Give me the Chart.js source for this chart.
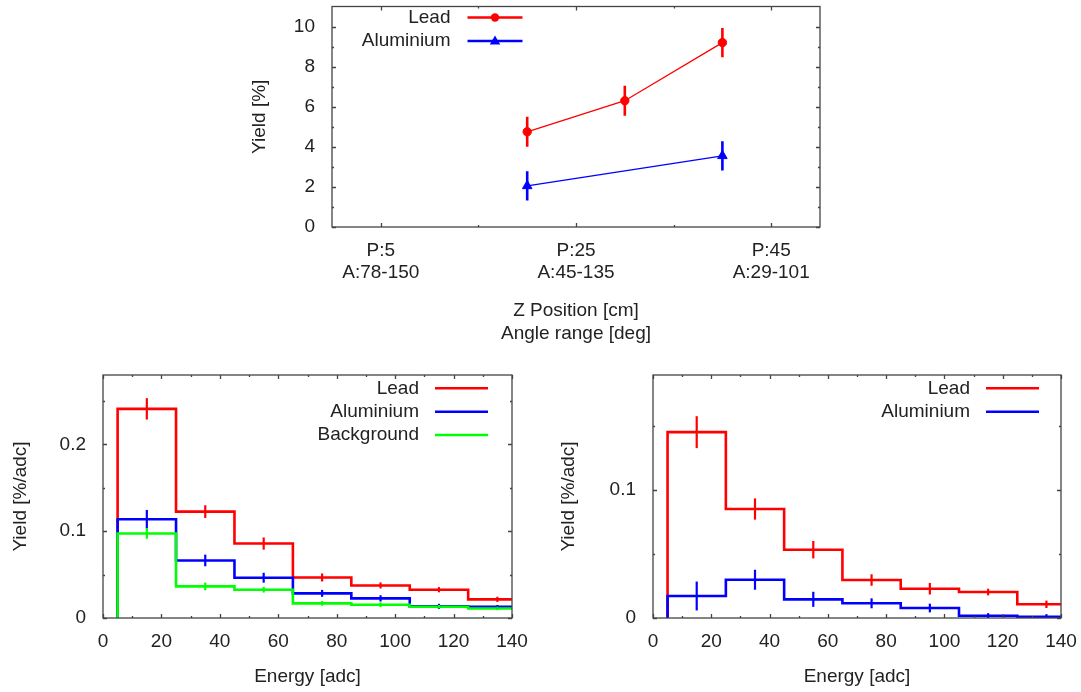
<!DOCTYPE html>
<html>
<head>
<meta charset="utf-8">
<script src="https://cdn.jsdelivr.net/npm/chart.js@4.4.1/dist/chart.umd.min.js"></script>
<style>
	body { margin: 0; background: #fff; }
	#page { position: relative; width: 1081px; height: 692px; overflow: hidden; }
	canvas { position: absolute; }
</style>
</head>
<body>
<div id="page">
	<canvas id="yield-z" width="600" height="350" style="left:230px;top:0"></canvas>
	<canvas id="energy-left" width="530" height="332" style="left:0;top:360px"></canvas>
	<canvas id="energy-right" width="533" height="332" style="left:548px;top:360px"></canvas>
</div>
<script>
	// top panel: yield vs z position
	var zLead = [20, 30, 40];
	var yieldLead = [4.75, 6.3, 9.2];
	var yieldLeadErr = [0.75, 0.75, 0.73];
	var zAlu = [20, 40];
	var yieldAlu = [2.05, 3.55];
	var yieldAluErr = [0.73, 0.73];
	var zTicks = [5, 25, 45];
	var zTickLabels = [['P:5', 'A:78-150'], ['P:25', 'A:45-135'], ['P:45', 'A:29-101']];
	var zMinorTicks = [15, 35];
	var yieldTicks = [0, 2, 4, 6, 8, 10];
	var yieldMinorTicks = [1, 3, 5, 7, 9];

	// energy histograms, bins 5-25, 25-45 ...
	var binEdges = [5, 25, 45, 65, 85, 105, 125, 145];
	var binCenters = [15, 35, 55, 75, 95, 115, 135];
	var energyTicks = [0, 20, 40, 60, 80, 100, 120, 140];
	var energyMinorTicks = [10, 30, 50, 70, 90, 110, 130];

	var leftLead = [0.241, 0.1226, 0.0858, 0.0467, 0.0375, 0.0326, 0.0215];
	var leftLeadErr = [0.0123, 0.0073, 0.007, 0.0046, 0.0035, 0.003, 0.003];
	var leftAlu = [0.1138, 0.0663, 0.0464, 0.0284, 0.0226, 0.0134, 0.013];
	var leftAluErr = [0.0107, 0.0067, 0.0057, 0.004, 0.0036, 0.003, 0.002];
	var leftBkg = [0.0973, 0.0364, 0.0326, 0.0169, 0.0153, 0.013, 0.011];
	var leftBkgErr = [0.006, 0.0044, 0.0033, 0.0027, 0.0027, 0.002, 0.002];
	var leftYTicks = [0, 0.1, 0.2];
	var leftYLabels = ['0', '0.1', '0.2'];
	var leftYMinor = [0.05, 0.15, 0.25];

	var rightLead = [0.1453, 0.0852, 0.0534, 0.0297, 0.0229, 0.0203, 0.0107];
	var rightLeadErr = [0.0125, 0.0083, 0.0068, 0.0045, 0.0045, 0.0026, 0.0029];
	var rightAlu = [0.0172, 0.0299, 0.0146, 0.0115, 0.0078, 0.0018, 0.001];
	var rightAluErr = [0.0113, 0.0078, 0.0059, 0.0039, 0.0034, 0.002, 0.002];
	var rightYTicks = [0, 0.1];
	var rightYLabels = ['0', '0.1'];
	var rightYMinor = [0.05, 0.15];

	var RED = '#ff0000', BLUE = '#0000ff', GREEN = '#00ff00';
	var TEXT = '#222222', FRAME = '#444444';
	var FONT = "'Liberation Sans', Arial, sans-serif";

	Chart.defaults.font.family = FONT;
	Chart.defaults.font.size = 19;
	Chart.defaults.color = TEXT;

	// gnuplot look: frame, inward ticks on all sides, error bars, key
	var gnuplotLook = {
		id: 'gp',
		afterDatasetsDraw: function(chart, args, opts) {
			var ctx = chart.ctx, xs = chart.scales.x, ys = chart.scales.y, a = chart.chartArea;
			ctx.save();
			ctx.beginPath();
			ctx.rect(a.left, a.top, a.right - a.left, a.bottom - a.top);
			ctx.clip();
			chart.data.datasets.forEach(function(ds) {
				if (!ds.errX) return;
				ctx.strokeStyle = ds.borderColor;
				ctx.lineWidth = opts.errWidth;
				ds.errX.forEach(function(x, i) {
					var px = xs.getPixelForValue(x);
					ctx.beginPath();
					ctx.moveTo(px, ys.getPixelForValue(ds.errY[i] - ds.errE[i]));
					ctx.lineTo(px, ys.getPixelForValue(ds.errY[i] + ds.errE[i]));
					ctx.stroke();
				});
			});
			ctx.restore();
		},
		afterDraw: function(chart, args, opts) {
			var ctx = chart.ctx, xs = chart.scales.x, ys = chart.scales.y, a = chart.chartArea;
			ctx.save();
			ctx.strokeStyle = FRAME;
			ctx.lineWidth = 1.3;
			ctx.strokeRect(a.left, a.top, a.right - a.left, a.bottom - a.top);

			function xTicks(vals, len) {
				vals.forEach(function(v) {
					var px = Math.round(xs.getPixelForValue(v)) + 0.5;
					ctx.beginPath();
					ctx.moveTo(px, a.bottom); ctx.lineTo(px, a.bottom - len);
					ctx.moveTo(px, a.top); ctx.lineTo(px, a.top + len);
					ctx.stroke();
				});
			}
			function yTicks(vals, len) {
				vals.forEach(function(v) {
					var py = Math.round(ys.getPixelForValue(v)) + 0.5;
					ctx.beginPath();
					ctx.moveTo(a.left, py); ctx.lineTo(a.left + len, py);
					ctx.moveTo(a.right, py); ctx.lineTo(a.right - len, py);
					ctx.stroke();
				});
			}
			xTicks(opts.xMajor, 4);
			xTicks(opts.xMinor, 2);
			yTicks(opts.yMajor, 4);
			yTicks(opts.yMinor, 2);

			// key
			var k = opts.key;
			ctx.font = '19px ' + FONT;
			ctx.textAlign = 'right';
			ctx.textBaseline = 'middle';
			chart.data.datasets.forEach(function(ds, i) {
				var y = k.y + i * k.dy;
				ctx.fillStyle = TEXT;
				ctx.fillText(ds.label, k.textRight, y);
				ctx.strokeStyle = ds.borderColor;
				ctx.lineWidth = 2.5;
				ctx.beginPath();
				ctx.moveTo(k.x0, y); ctx.lineTo(k.x1, y);
				ctx.stroke();
				if (ds.pointRadius) {
					var cx = (k.x0 + k.x1) / 2, r = ds.pointRadius;
					ctx.fillStyle = ds.borderColor;
					ctx.beginPath();
					if (ds.pointStyle === 'triangle') {
						ctx.moveTo(cx, y - r);
						ctx.lineTo(cx + r * 0.95, y + r * 0.65);
						ctx.lineTo(cx - r * 0.95, y + r * 0.65);
						ctx.closePath();
					} else {
						ctx.arc(cx, y, r, 0, Math.PI * 2);
					}
					ctx.fill();
				}
			});
			ctx.restore();
		}
	};

	function fixedTicks(vals) {
		return function(scale) {
			scale.ticks = vals.map(function(v) { return { value: v }; });
		};
	}

	// fixed box sizes, no label overhang padding, so the plot frame lands where gnuplot put it
	function fixX(h) {
		return function(s) { s.height = h; s.paddingLeft = 0; s.paddingRight = 0; };
	}
	function fixY(w) {
		return function(s) { s.width = w; s.paddingTop = 0; s.paddingBottom = 0; };
	}

	function stepPoints(values) {
		var pts = [{ x: binEdges[0], y: 0 }];
		values.forEach(function(v, i) { pts.push({ x: binEdges[i], y: v }); });
		pts.push({ x: binEdges[binEdges.length - 1], y: values[values.length - 1] });
		return pts;
	}

	function histDataset(label, color, values, errs, order) {
		return {
			label: label,
			data: stepPoints(values),
			borderColor: color,
			borderWidth: 2.6,
			stepped: 'before',
			pointRadius: 0,
			fill: false,
			order: order,
			errX: binCenters,
			errY: values,
			errE: errs
		};
	}

	function energyOptions(yMax, yTickVals, yLabels, yMinor, yWidth, padRight, key) {
		return {
			responsive: false,
			animation: false,
			layout: { padding: { top: 15, right: padRight, left: 0, bottom: 0 } },
			plugins: {
				legend: { display: false },
				tooltip: { enabled: false },
				gp: {
					xMajor: energyTicks, xMinor: energyMinorTicks,
					yMajor: yTickVals, yMinor: yMinor,
					errWidth: 2.2, key: key
				}
			},
			scales: {
				x: {
					type: 'linear', min: 0, max: 140,
					grid: { display: false, drawTicks: false },
					border: { display: false },
					afterBuildTicks: fixedTicks(energyTicks),
					afterFit: fixX(74),
					ticks: { padding: 12, maxRotation: 0, autoSkip: false },
					title: { display: true, text: 'Energy [adc]', padding: { top: 0, bottom: 4 } }
				},
				y: {
					min: 0, max: yMax,
					grid: { display: false, drawTicks: false },
					border: { display: false },
					afterBuildTicks: fixedTicks(yTickVals),
					afterFit: fixY(yWidth),
					ticks: {
						padding: 17,
						callback: function(v, i) { return yLabels[i]; }
					},
					title: { display: true, text: 'Yield [%/adc]', padding: { top: 9, bottom: 0 } }
				}
			}
		};
	}

	new Chart(document.getElementById('yield-z'), {
		type: 'line',
		data: {
			datasets: [{
				label: 'Lead',
				data: zLead.map(function(z, i) { return { x: z, y: yieldLead[i] }; }),
				borderColor: RED,
				backgroundColor: RED,
				borderWidth: 1.3,
				pointStyle: 'circle',
				pointRadius: 4.2,
				pointBorderWidth: 1,
				errX: zLead, errY: yieldLead, errE: yieldLeadErr
			}, {
				label: 'Aluminium',
				data: zAlu.map(function(z, i) { return { x: z, y: yieldAlu[i] }; }),
				borderColor: BLUE,
				backgroundColor: BLUE,
				borderWidth: 1.3,
				pointStyle: 'triangle',
				pointRadius: 5.5,
				pointBorderWidth: 1,
				errX: zAlu, errY: yieldAlu, errE: yieldAluErr
			}]
		},
		options: {
			responsive: false,
			animation: false,
			layout: { padding: { top: 2, right: 10, left: 0, bottom: 0 } },
			plugins: {
				legend: { display: false },
				tooltip: { enabled: false },
				gp: {
					xMajor: zTicks, xMinor: zMinorTicks,
					yMajor: yieldTicks, yMinor: yieldMinorTicks,
					errWidth: 2.6,
					key: { textRight: 220.5, x0: 237.5, x1: 292.5, y: 17.5, dy: 23.5 }
				}
			},
			scales: {
				x: {
					type: 'linear', min: 0, max: 50,
					grid: { display: false, drawTicks: false },
					border: { display: false },
					afterBuildTicks: fixedTicks(zTicks),
					afterFit: fixX(123),
					ticks: {
						padding: 12, maxRotation: 0, autoSkip: false,
						callback: function(v, i) { return zTickLabels[i]; }
					},
					title: {
						display: true,
						text: ['Z Position [cm]', 'Angle range [deg]'],
						padding: { top: 0, bottom: 5 }
					}
				},
				y: {
					min: 0, max: 11,
					grid: { display: false, drawTicks: false },
					border: { display: false },
					afterBuildTicks: fixedTicks(yieldTicks),
					afterFit: fixY(102),
					ticks: { padding: 17 },
					title: { display: true, text: 'Yield [%]', padding: { top: 18, bottom: 0 } }
				}
			}
		},
		plugins: [gnuplotLook]
	});

	new Chart(document.getElementById('energy-left'), {
		type: 'line',
		data: {
			datasets: [
				histDataset('Lead', RED, leftLead, leftLeadErr, 3),
				histDataset('Aluminium', BLUE, leftAlu, leftAluErr, 2),
				histDataset('Background', GREEN, leftBkg, leftBkgErr, 1)
			]
		},
		options: energyOptions(0.28, leftYTicks, leftYLabels, leftYMinor, 103, 18,
			{ textRight: 419, x0: 435, x1: 488, y: 28.3, dy: 23.4 }),
		plugins: [gnuplotLook]
	});

	new Chart(document.getElementById('energy-right'), {
		type: 'line',
		data: {
			datasets: [
				histDataset('Lead', RED, rightLead, rightLeadErr, 2),
				histDataset('Aluminium', BLUE, rightAlu, rightAluErr, 1)
			]
		},
		options: energyOptions(0.19, rightYTicks, rightYLabels, rightYMinor, 105, 20,
			{ textRight: 422, x0: 438, x1: 491, y: 28.3, dy: 23.4 }),
		plugins: [gnuplotLook]
	});
</script>
</body>
</html>
